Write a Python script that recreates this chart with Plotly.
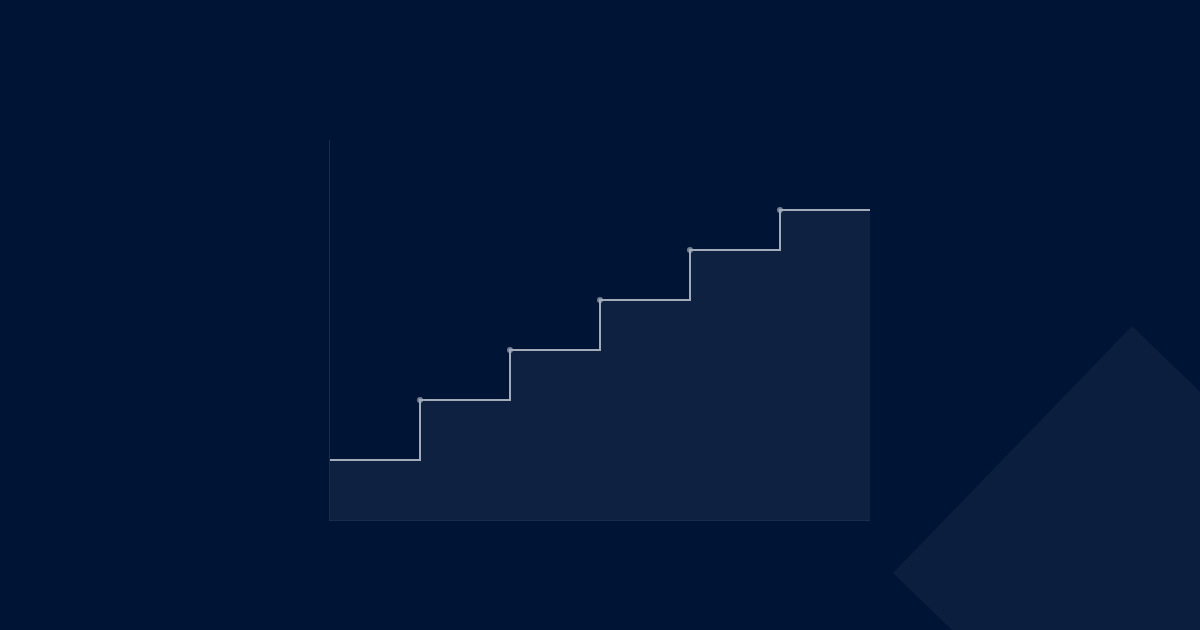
import plotly.graph_objects as go

steps = [0, 1, 2, 3, 4, 5, 6]
values = [60, 120, 170, 220, 270, 310, 310]
marker_sizes = [0, 6, 6, 6, 6, 6, 0]

BG = "#001536"
FILL = "#0f2140"
LINE = "#a3abb8"
AXIS = "rgba(255,255,255,0.1)"

fig = go.Figure()
fig.add_trace(go.Scatter(
    x=steps, y=values,
    mode="lines+markers",
    line=dict(shape="hv", color=LINE, width=2),
    marker=dict(size=marker_sizes, color=LINE, line=dict(width=0)),
    fill="tozeroy", fillcolor=FILL,
    hoverinfo="skip", showlegend=False, cliponaxis=False,
))

# decorative diamond (paper coordinates)
fig.add_shape(type="path", xref="paper", yref="paper", layer="below",
              path="M 1.0426 -0.1395 L 1.4852 0.5105 L 1.9426 -0.118 L 1.5 -0.768 Z",
              fillcolor="#0c1e3d", line=dict(width=0))

fig.update_layout(
    width=1200, height=630,
    margin=dict(l=330, r=330, t=140, b=110),
    paper_bgcolor=BG, plot_bgcolor="rgba(0,0,0,0)",
    xaxis=dict(range=[0, 6], showgrid=False, zeroline=False, showticklabels=False,
               ticks="", showline=True, linecolor=AXIS, linewidth=1),
    yaxis=dict(range=[0, 380], showgrid=False, zeroline=False, showticklabels=False,
               ticks="", showline=True, linecolor=AXIS, linewidth=1),
)

fig.write_html("out.html", config={"displayModeBar": False, "staticPlot": True},
               post_script="document.body.style.margin='0';document.body.style.background='#001536';")
